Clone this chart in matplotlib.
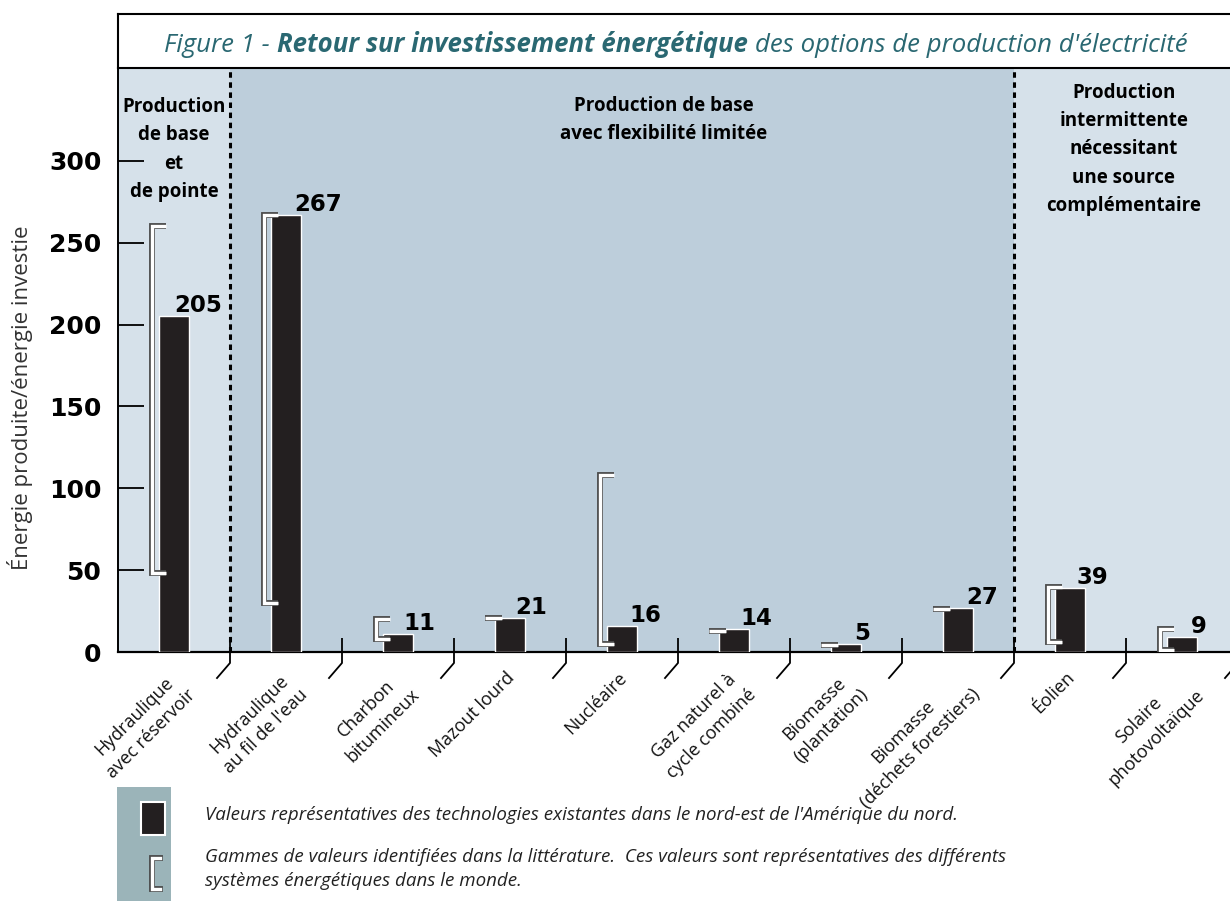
import matplotlib
matplotlib.use("Agg")  # non-interactive backend
import matplotlib.pyplot as plt
import matplotlib.patheffects as pe
from matplotlib.patches import Rectangle
from matplotlib.lines import Line2D

# --- data ---
categories = [
    "Hydraulique\navec réservoir",
    "Hydraulique\nau fil de l'eau",
    "Charbon\nbitumineux",
    "Mazout lourd",
    "Nucléaire",
    "Gaz naturel à\ncycle combiné",
    "Biomasse\n(plantation)",
    "Biomasse\n(déchets forestiers)",
    "Éolien",
    "Solaire\nphotovoltaïque",
]
values = [205, 267, 11, 21, 16, 14, 5, 27, 39, 9]
range_low = [48, 30, 8, 21, 5, 13, 4, 26, 6, 1]
range_high = [260, 267, 20, 21, 108, 13, 4, 26, 40, 14]
y_ticks = [0, 50, 100, 150, 200, 250, 300]

group_labels = [
    "Production\nde base\net\nde pointe",
    "Production de base\navec flexibilité limitée",
    "Production\nintermittente\nnécessitant\nune source\ncomplémentaire",
]
group_spans = [(-0.5, 0.5), (0.5, 7.5), (7.5, 9.5)]

TEXT_FONT = "Open Sans"
NUM_FONT = "DejaVu Sans"
LIGHT = "#D6E1EA"
MID = "#BDCEDB"
BAR = "#231F20"
TEAL = "#2A6872"

W, H = 1230, 901
fig = plt.figure(figsize=(W / 100, H / 100), dpi=100)
ax = fig.add_axes([118 / W, (H - 652) / H, 1120 / W, 584 / H])
ax.set_xlim(-0.5, 9.5)
ax.set_ylim(0, 584 / 1.637)

# background regions
for (x0, x1), c in zip(group_spans, [LIGHT, MID, LIGHT]):
    ax.axvspan(x0, x1, color=c, lw=0, zorder=0)
for x in [group_spans[0][1], group_spans[2][0]]:
    ax.axvline(x, color="black", lw=2.2, linestyle=(0, (1.8, 1.5)), zorder=2)

# bars
xs = list(range(len(values)))
ax.bar(xs, values, width=0.27, color=BAR, edgecolor="white", linewidth=1, zorder=3)

# literature ranges (white brackets)
bracket_fx = [pe.Stroke(linewidth=4.2, foreground="#4a4a4a"), pe.Normal()]
for i, lo, hi in zip(xs, range_low, range_high):
    xv, xa = i - 0.2, i - 0.07
    if lo == hi:
        px, py = [i - 0.22, xa], [lo, lo]
    else:
        px, py = [xa, xv, xv, xa], [hi, hi, lo, lo]
    ax.plot(px, py, color="white", lw=2.4, solid_joinstyle="miter",
            solid_capstyle="butt", path_effects=bracket_fx, zorder=4)

# value labels
label_dx = [0.0, 0.07, 0.05, 0.05, 0.07, 0.06, 0.07, 0.07, 0.06, 0.08]
for i, v, dx in zip(xs, values, label_dx):
    ax.annotate(str(v), (i + dx, v), xytext=(0, 4), textcoords="offset pixels",
                ha="left", va="baseline", fontsize=16.5, fontweight="bold",
                family=NUM_FONT, zorder=5)

# category separators + rotated category labels
for i, name in zip(xs, categories):
    b = i + 0.5
    ax.plot([b, b, b - 0.116], [8, -6.7, -15.9], color="black", lw=1.3,
            clip_on=False, zorder=5)
    ax.text(i - 0.04, -10, name, rotation=45, rotation_mode="anchor",
            ha="right", va="top", multialignment="center", fontsize=13,
            family=TEXT_FONT, color="#111111", linespacing=1.45)

# group headings
group_x = [0.0, 4.37, 8.48]
group_y = [307, 325, 307]
for gx, gy, txt in zip(group_x, group_y, group_labels):
    ax.text(gx, gy, txt, ha="center", va="center", fontsize=13.5,
            fontweight="bold", family=TEXT_FONT, linespacing=1.56)

# axes styling
for s in ["top", "right"]:
    ax.spines[s].set_visible(False)
ax.spines["left"].set_linewidth(1.4)
ax.spines["bottom"].set_linewidth(1.6)
ax.set_xticks([])
ax.set_yticks(y_ticks)
ax.tick_params(axis="y", direction="in", length=19, width=1.3, pad=12)
for t in ax.get_yticklabels():
    t.set_fontsize(18)
    t.set_fontweight("bold")
    t.set_family(NUM_FONT)

fig.text(20 / W, (H - 398) / H, "Énergie produite/énergie investie", rotation=90,
         ha="center", va="center", fontsize=16, family=TEXT_FONT, color="#333333")

# title box
tax = fig.add_axes([118 / W, (H - 68) / H, 1120 / W, 54 / H])
tax.set_xticks([])
tax.set_yticks([])
for s in tax.spines.values():
    s.set_linewidth(1.5)
tax.spines["right"].set_visible(False)

parts = [
    ("Figure 1 -", "normal"),
    ("Retour sur investissement énergétique", "bold"),
    ("des options de production d'électricité", "normal"),
]
renderer = fig.canvas.get_renderer()
title_texts = []
for txt, wt in parts:
    title_texts.append(fig.text(0, (H - 52) / H, txt, fontsize=18.5, style="italic",
                                fontweight=wt, family=TEXT_FONT, color=TEAL,
                                va="baseline", ha="left"))
gap = 7
widths = [t.get_window_extent(renderer).width for t in title_texts]
x = 676 - (sum(widths) + gap * (len(widths) - 1)) / 2
for t, w in zip(title_texts, widths):
    t.set_x(x / W)
    x += w + gap

# legend block
fig.patches.append(Rectangle((117 / W, 0), 54 / W, 114 / H, transform=fig.transFigure,
                             facecolor="#9BB4B9", edgecolor="none"))
fig.patches.append(Rectangle((141 / W, (H - 835) / H), 24 / W, 33 / H,
                             transform=fig.transFigure, facecolor=BAR,
                             edgecolor="white", lw=1.5))
fig.lines.append(Line2D([160 / W, 152 / W, 152 / W, 160 / W],
                        [(H - 858) / H, (H - 858) / H, (H - 889) / H, (H - 889) / H],
                        transform=fig.transFigure, color="white", lw=2.4,
                        solid_joinstyle="miter", path_effects=bracket_fx))
leg_kw = dict(fontsize=13.5, style="italic", family=TEXT_FONT, color="#222222",
              va="center", ha="left")
fig.text(205 / W, (H - 815) / H,
         "Valeurs représentatives des technologies existantes dans le nord-est de l'Amérique du nord.",
         **leg_kw)
fig.text(205 / W, (H - 857) / H,
         "Gammes de valeurs identifiées dans la littérature.  Ces valeurs sont représentatives des différents",
         **leg_kw)
fig.text(205 / W, (H - 881) / H, "systèmes énergétiques dans le monde.", **leg_kw)

fig.savefig("out.png", dpi=100)
